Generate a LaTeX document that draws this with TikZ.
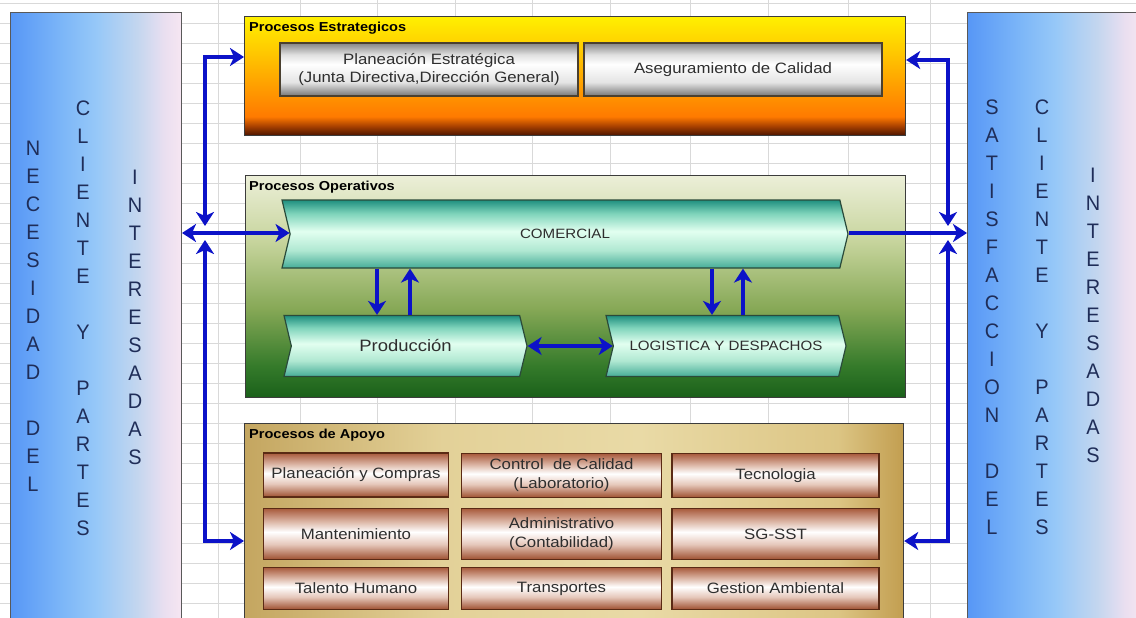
\documentclass[tikz,border=0pt]{standalone}
\usepackage{fontspec}
\setmainfont{Liberation Sans}
\newfontfamily\lblfont[FakeStretch=1.12]{Liberation Sans}
\newfontfamily\panfont[FakeStretch=0.95]{Liberation Sans}
\usetikzlibrary{shapes.symbols,arrows.meta}
\definecolor{gridc}{HTML}{D9D9D9}
\definecolor{arrblue}{HTML}{0C12C8}
\definecolor{pantext}{HTML}{1F2D58}
\definecolor{boxline}{HTML}{3C3C3C}
\definecolor{lbltext}{HTML}{2E2E2E}
% panel colours
\definecolor{pA}{HTML}{5797F6}\definecolor{pB}{HTML}{7CB6F8}\definecolor{pC}{HTML}{96C8F8}
\definecolor{pD}{HTML}{C3D6EF}\definecolor{pE}{HTML}{EADFF0}\definecolor{pF}{HTML}{F6E6F2}
% strategic box
\definecolor{sA}{HTML}{4A1400}\definecolor{sB}{HTML}{A84000}\definecolor{sC}{HTML}{FF7A00}
\definecolor{sD}{HTML}{FF9C00}\definecolor{sE}{HTML}{FFC800}\definecolor{sF}{HTML}{FFF000}
% operative box
\definecolor{oA}{HTML}{1A601A}\definecolor{oB}{HTML}{347A2A}\definecolor{oC}{HTML}{86A856}
\definecolor{oD}{HTML}{C6D49C}\definecolor{oE}{HTML}{ECEFD8}
% teal signals
\definecolor{tA}{HTML}{46AD98}\definecolor{tB}{HTML}{B0E8D2}\definecolor{tC}{HTML}{E2FFF0}
\definecolor{tD}{HTML}{7FD4BB}\definecolor{tE}{HTML}{1F8F7F}\definecolor{tline}{HTML}{2A4A3A}
% grey boxes
\definecolor{gA}{HTML}{767676}\definecolor{gB}{HTML}{E4E4E4}\definecolor{gC}{HTML}{FFFFFF}
\definecolor{gD}{HTML}{E0E0E0}\definecolor{gE}{HTML}{858585}\definecolor{gline}{HTML}{4A4030}
% brown boxes
\definecolor{bA}{HTML}{9E5030}\definecolor{bB}{HTML}{E6C8BB}\definecolor{bC}{HTML}{FFFFFF}
\definecolor{bD}{HTML}{DDB8A8}\definecolor{bE}{HTML}{A85A3C}\definecolor{bline}{HTML}{5A2A14}
% support box
\definecolor{kA}{HTML}{C4A660}\definecolor{kB}{HTML}{E3D198}\definecolor{kC}{HTML}{E9DAA6}
\definecolor{kD}{HTML}{DCC584}\definecolor{kE}{HTML}{C29E50}

\pgfdeclarehorizontalshading{panshade}{100bp}{color(0bp)=(pA); color(25bp)=(pA); color(40bp)=(pB); color(50bp)=(pC); color(62bp)=(pD); color(70bp)=(pE); color(75bp)=(pF); color(100bp)=(pF)}
\pgfdeclareverticalshading{stratshade}{100bp}{color(0bp)=(sA); color(25bp)=(sA); color(29bp)=(sB); color(33bp)=(sC); color(45bp)=(sD); color(60bp)=(sE); color(75bp)=(sF); color(100bp)=(sF)}
\pgfdeclareverticalshading{opershade}{100bp}{color(0bp)=(oA); color(25bp)=(oA); color(32bp)=(oB); color(45bp)=(oC); color(60bp)=(oD); color(75bp)=(oE); color(100bp)=(oE)}
\pgfdeclareverticalshading{tealshade}{100bp}{color(0bp)=(tA); color(25bp)=(tA); color(38bp)=(tB); color(52bp)=(tC); color(65bp)=(tD); color(75bp)=(tE); color(100bp)=(tE)}
\pgfdeclareverticalshading{greyshade}{100bp}{color(0bp)=(gA); color(25bp)=(gA); color(38bp)=(gB); color(55bp)=(gC); color(64bp)=(gD); color(75bp)=(gE); color(100bp)=(gE)}
\pgfdeclareverticalshading{brownshade}{100bp}{color(0bp)=(bA); color(25bp)=(bA); color(40bp)=(bB); color(52bp)=(bC); color(62bp)=(bD); color(75bp)=(bE); color(100bp)=(bE)}
\pgfdeclarehorizontalshading{khakishade}{100bp}{color(0bp)=(kA); color(25bp)=(kA); color(40bp)=(kB); color(55bp)=(kC); color(70bp)=(kD); color(75bp)=(kE); color(100bp)=(kE)}

\tikzset{
  gridln/.style={draw=gridc, line width=0.7pt},
  panel/.style={shade, shading=panshade, draw=gray!70!black, line width=1pt, anchor=north west, inner sep=0pt},
  pancol/.style={align=center, font=\panfont\fontsize{21}{28}\selectfont, text=pantext, inner sep=0pt},
  outerbox/.style={draw=boxline, line width=1.2pt, anchor=north west, inner sep=0pt},
  ttl/.style={anchor=west, inner sep=0pt, font=\lblfont\bfseries\fontsize{13}{14}\selectfont, text=black},
  greybox/.style={shade, shading=greyshade, draw=gline, line width=1.2pt, align=center, inner sep=0pt,
     font=\lblfont\fontsize{15}{18}\selectfont, text=lbltext},
  brownbox/.style={shade, shading=brownshade, draw=bline, line width=1.2pt, align=center, inner sep=0pt,
     font=\lblfont\fontsize{15}{19}\selectfont, text=lbltext},
  sig/.style={signal, signal from=west, signal to=east, signal pointer angle=153, shade, shading=tealshade,
     draw=tline, line width=1.2pt, inner sep=0pt, text=lbltext},
  tip/.tip={Stealth[length=14pt,width=18pt,inset=4pt]},
  conn/.style={draw=arrblue, line width=3.5pt, -tip},
  conn2/.style={draw=arrblue, line width=3.5pt, tip-tip}
}

\begin{document}
\begin{tikzpicture}[x=1pt,y=-1pt]
\clip (0,0) rectangle (1136,618);
\fill[white] (0,0) rectangle (1136,618);
% spreadsheet grid
\foreach \y in {3,23,...,603} \draw[gridln] (0,\y) -- (1136,\y);
\foreach \x in {218,300,377,455,532,610,690,768,848,930} \draw[gridln] (\x,0) -- (\x,618);

% side panels
\node[panel, minimum width=171pt, minimum height=620pt] (leftpan) at (10,12) {};
\node[panel, minimum width=175pt, minimum height=620pt] (rightpan) at (967,12) {};
\node[pancol] (l1) at (33,316) {N\\E\\C\\E\\S\\I\\D\\A\\D\\\mbox{}\\D\\E\\L};
\node[pancol] (l2) at (83,318) {C\\L\\I\\E\\N\\T\\E\\\mbox{}\\Y\\\mbox{}\\P\\A\\R\\T\\E\\S};
\node[pancol] (l3) at (135,317) {I\\N\\T\\E\\R\\E\\S\\A\\D\\A\\S};
\node[pancol] (r1) at (992,317) {S\\A\\T\\I\\S\\F\\A\\C\\C\\I\\O\\N\\\mbox{}\\D\\E\\L};
\node[pancol] (r2) at (1042,317) {C\\L\\I\\E\\N\\T\\E\\\mbox{}\\Y\\\mbox{}\\P\\A\\R\\T\\E\\S};
\node[pancol] (r3) at (1093,315) {I\\N\\T\\E\\R\\E\\S\\A\\D\\A\\S};

% strategic processes
\node[outerbox, shade, shading=stratshade, minimum width=661pt, minimum height=119pt] (strat) at (244,16) {};
\node[ttl] (stratttl) at (249,28) {Procesos Estrategicos};
\node[greybox, minimum width=298pt, minimum height=53pt] (plan) at (429,69.5) {Planeación Estratégica\\(Junta Directiva,Dirección General)};
\node[greybox, minimum width=298pt, minimum height=53pt] (aseg) at (733,69.5) {Aseguramiento de Calidad};

% operative processes
\node[outerbox, shade, shading=opershade, minimum width=660pt, minimum height=222pt] (oper) at (245,175) {};
\node[ttl] (operttl) at (249,187) {Procesos Operativos};
\node[sig, minimum width=566pt, minimum height=68pt, font=\lblfont\fontsize{13.5}{16}\selectfont] (comercial) at (565,234) {COMERCIAL};
\node[sig, minimum width=243pt, minimum height=61pt, font=\lblfont\fontsize{16.5}{19}\selectfont] (prod) at (405.5,346) {Producción};
\node[sig, minimum width=240pt, minimum height=61pt, font=\lblfont\fontsize{13.5}{16}\selectfont] (logi) at (726,346) {LOGISTICA Y DESPACHOS};

% support processes
\node[outerbox, shade, shading=khakishade, minimum width=659pt, minimum height=210pt] (apoyo) at (244,423) {};
\node[ttl] (apoyottl) at (249,435) {Procesos de Apoyo};
\node[brownbox, minimum width=185pt, minimum height=44pt] (a11) at (356,475) {Planeación y Compras};
\node[brownbox, minimum width=200pt, minimum height=44pt] (a12) at (561.5,475.5) {Control\ \ de Calidad\\(Laboratorio)};
\node[brownbox, minimum width=207pt, minimum height=44pt] (a13) at (775.5,475.5) {Tecnologia};
\node[brownbox, minimum width=185pt, minimum height=51pt] (a21) at (356,534) {Mantenimiento};
\node[brownbox, minimum width=200pt, minimum height=51pt] (a22) at (561.5,534) {Administrativo\\(Contabilidad)};
\node[brownbox, minimum width=207pt, minimum height=51pt] (a23) at (775.5,534) {SG-SST};
\node[brownbox, minimum width=185pt, minimum height=42pt] (a31) at (356,588.5) {Talento Humano};
\node[brownbox, minimum width=200pt, minimum height=42pt] (a32) at (561.5,588.5) {Transportes};
\node[brownbox, minimum width=207pt, minimum height=42pt] (a33) at (775.5,588.5) {Gestion Ambiental};

% connectors inside operative box
\draw[conn] (377,0 |- comercial.south) -- (377,0 |- prod.north);
\draw[conn] (410,0 |- prod.north) -- (410,0 |- comercial.south);
\draw[conn] (712,0 |- comercial.south) -- (712,0 |- logi.north);
\draw[conn] (743,0 |- logi.north) -- (743,0 |- comercial.south);
\draw[conn2] (prod.east) -- (logi.west);

% left side connectors
\coordinate (ltj) at (205,226);
\coordinate (lbj) at (205,240);
\draw[conn2] (ltj) |- (strat.west |- 0,57);
\draw[conn2] (lbj) |- (apoyo.west |- 0,541);
\draw[conn2] (leftpan.east |- 0,233) -- (comercial.west |- 0,233);

% right side connectors
\coordinate (rtj) at (948,226);
\coordinate (rbj) at (948,240);
\draw[conn2] (rtj) |- (strat.east |- 0,60);
\draw[conn2] (rbj) |- (apoyo.east |- 0,541);
\draw[conn] (comercial.east |- 0,233) -- (rightpan.west |- 0,233);
\end{tikzpicture}
\end{document}
